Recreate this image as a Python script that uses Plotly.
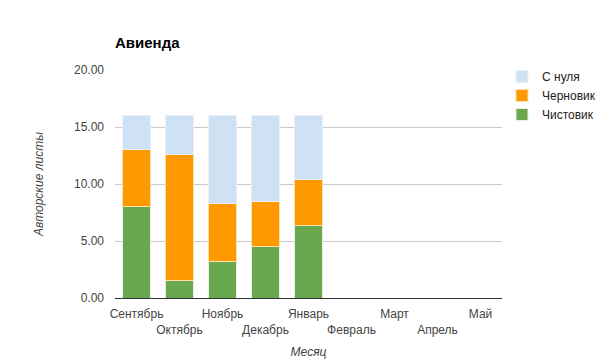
import plotly.graph_objects as go

months = ["Сентябрь", "Октябрь", "Ноябрь", "Декабрь", "Январь", "Февраль", "Март", "Апрель", "Май"]
chistovik = [8.0, 1.5, 3.2, 4.5, 6.4, 0, 0, 0, 0]
chernovik = [5.0, 11.1, 5.1, 4.0, 4.0, 0, 0, 0, 0]
s_nulya = [3.0, 3.4, 7.7, 7.5, 5.6, 0, 0, 0, 0]
y_ticks = [0, 5, 10, 15, 20]

tick_text = [m if i % 2 == 0 else "<br>" + m for i, m in enumerate(months)]

fig = go.Figure()
fig.add_bar(x=months, y=chistovik, name="Чистовик", marker=dict(color="#6aa84f", line=dict(color="#e8f0e0", width=1)))
fig.add_bar(x=months, y=chernovik, name="Черновик", marker=dict(color="#ff9900", line=dict(color="#ffe0b0", width=1)))
fig.add_bar(x=months, y=s_nulya, name="С нуля", marker=dict(color="#cfe2f3", line=dict(color="#e8f1fa", width=1)))

fig.update_layout(
    width=605, height=363,
    barmode="stack", bargap=0.37,
    paper_bgcolor="white", plot_bgcolor="white",
    font=dict(family="Arial, Liberation Sans, sans-serif", size=12, color="#444"),
    margin=dict(l=115, r=103, t=70, b=65),
    title=dict(text="<b>Авиенда</b>", x=115/605, xanchor="left", y=1-43/363, yanchor="middle",
               font=dict(size=15, color="#000")),
    legend=dict(xref="container", yref="container", x=502/605, xanchor="left", y=1-62/363, yanchor="top",
                traceorder="reversed", font=dict(size=12, color="#222"), tracegroupgap=0),
    showlegend=True,
)
fig.update_xaxes(tickmode="array", tickvals=months, ticktext=tick_text, tickangle=0, automargin=False,
                 showline=True, linecolor="#333", linewidth=1, ticks="", showgrid=False, ticklabelstandoff=5,
                 title=dict(text="<i>Месяц</i>", standoff=11, font=dict(size=12, color="#444")))
fig.update_yaxes(range=[0, 20], tickvals=y_ticks, tickformat=".2f", showgrid=True, gridcolor="#ccc",
                 zeroline=False, ticks="", ticklabelstandoff=10, automargin=False,
                 title=dict(text="<i>Авторские листы</i>", standoff=27, font=dict(size=12, color="#444")))

fig.write_html("out.html", config={"displayModeBar": False},
               post_script="document.body.style.margin='0';document.body.style.overflow='hidden';")
